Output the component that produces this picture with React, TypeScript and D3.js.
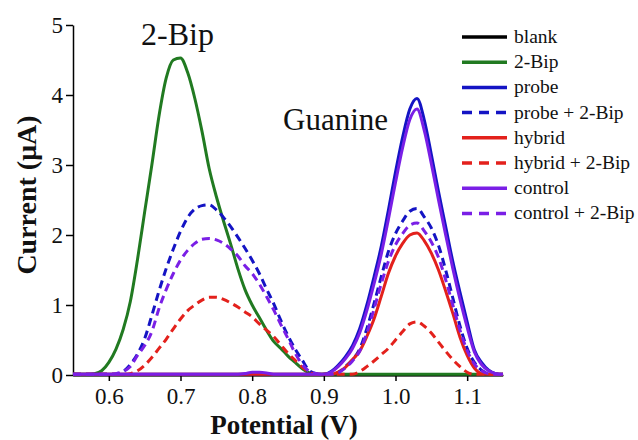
import React, { useEffect, useRef } from 'react';
import * as d3 from 'd3';

const svgWidth = 638;
const svgHeight = 440;

// potential grid (V)
const potential = [
  0.55, 0.56, 0.57, 0.58, 0.59, 0.60, 0.61, 0.62, 0.63, 0.64,
  0.65, 0.66, 0.67, 0.68, 0.69, 0.70, 0.71, 0.72, 0.73, 0.74,
  0.75, 0.76, 0.77, 0.78, 0.79, 0.80, 0.81, 0.82, 0.83, 0.84,
  0.85, 0.86, 0.87, 0.88, 0.89, 0.90, 0.91, 0.92, 0.93, 0.94,
  0.95, 0.96, 0.97, 0.98, 0.99, 1.00, 1.01, 1.02, 1.03, 1.04,
  1.05, 1.06, 1.07, 1.08, 1.09, 1.10, 1.11, 1.12, 1.13, 1.14,
  1.15,
];

// current (uA)
const blank = [
  0, 0, 0, 0, 0, 0, 0, 0, 0, 0,
  0, 0, 0, 0, 0, 0, 0, 0, 0, 0,
  0, 0, 0, 0, 0, 0, 0, 0, 0, 0,
  0, 0, 0, 0, 0, 0, 0, 0, 0, 0,
  0, 0, 0, 0, 0, 0, 0, 0, 0, 0,
  0, 0, 0, 0, 0, 0, 0, 0, 0, 0,
  0,
];

const bip = [
  0.01, 0.01, 0.01, 0.02, 0.06, 0.18, 0.37, 0.65, 1.05, 1.65,
  2.33, 3.00, 3.70, 4.24, 4.50, 4.53, 4.32, 3.95, 3.48, 2.95,
  2.55, 2.20, 1.87, 1.52, 1.22, 1.00, 0.82, 0.64, 0.48, 0.38,
  0.27, 0.18, 0.09, 0.03, 0.01, 0.01, 0.01, 0.01, 0.01, 0.01,
  0.01, 0.01, 0.01, 0.01, 0.01, 0.01, 0.01, 0.01, 0.01, 0.01,
  0.01, 0.01, 0.01, 0.01, 0.01, 0.01, 0.01, 0.01, 0.01, 0.01,
  0.01,
];

const probe = [
  0.01, 0.01, 0.01, 0.01, 0.01, 0.01, 0.01, 0.01, 0.01, 0.01,
  0.01, 0.01, 0.01, 0.01, 0.01, 0.01, 0.01, 0.01, 0.01, 0.01,
  0.01, 0.01, 0.01, 0.01, 0.01, 0.01, 0.01, 0.01, 0.01, 0.01,
  0.01, 0.01, 0.01, 0.01, 0.01, 0.01, 0.05, 0.14, 0.26, 0.42,
  0.66, 1.00, 1.40, 1.83, 2.35, 2.90, 3.40, 3.80, 3.95, 3.65,
  3.15, 2.62, 2.12, 1.62, 1.18, 0.76, 0.36, 0.18, 0.07, 0.02,
  0.01,
];

const probeBip = [
  0.01, 0.01, 0.01, 0.01, 0.01, 0.01, 0.01, 0.05, 0.15, 0.30,
  0.52, 0.85, 1.20, 1.52, 1.80, 2.05, 2.25, 2.37, 2.42, 2.43,
  2.36, 2.25, 2.12, 1.97, 1.81, 1.64, 1.45, 1.23, 1.02, 0.78,
  0.56, 0.37, 0.21, 0.06, 0.02, 0.01, 0.01, 0.04, 0.12, 0.22,
  0.37, 0.66, 1.02, 1.40, 1.76, 2.02, 2.20, 2.34, 2.38, 2.26,
  2.10, 1.85, 1.50, 1.10, 0.70, 0.38, 0.18, 0.07, 0.02, 0.01,
  0.01,
];

const hybrid = [
  0.01, 0.01, 0.01, 0.01, 0.01, 0.01, 0.01, 0.01, 0.01, 0.01,
  0.01, 0.01, 0.01, 0.01, 0.01, 0.01, 0.01, 0.01, 0.01, 0.01,
  0.01, 0.01, 0.01, 0.01, 0.01, 0.01, 0.01, 0.01, 0.01, 0.01,
  0.01, 0.01, 0.01, 0.01, 0.01, 0.01, 0.01, 0.04, 0.11, 0.22,
  0.34, 0.55, 0.80, 1.12, 1.45, 1.70, 1.88, 2.00, 2.03, 1.92,
  1.74, 1.50, 1.20, 0.88, 0.54, 0.28, 0.10, 0.02, 0.01, 0.01,
  0.01,
];

const hybridBip = [
  0.01, 0.01, 0.01, 0.01, 0.01, 0.01, 0.01, 0.01, 0.02, 0.06,
  0.14, 0.25, 0.38, 0.51, 0.66, 0.80, 0.92, 1.00, 1.07, 1.11,
  1.11, 1.08, 1.03, 0.97, 0.90, 0.83, 0.73, 0.64, 0.55, 0.43,
  0.31, 0.21, 0.11, 0.04, 0.01, 0.01, 0.01, 0.01, 0.01, 0.01,
  0.05, 0.12, 0.20, 0.29, 0.38, 0.50, 0.62, 0.73, 0.76, 0.70,
  0.60, 0.47, 0.34, 0.22, 0.12, 0.04, 0.01, 0.01, 0.01, 0.01,
  0.01,
];

const control = [
  0.01, 0.01, 0.01, 0.01, 0.01, 0.01, 0.01, 0.01, 0.01, 0.01,
  0.01, 0.01, 0.01, 0.01, 0.01, 0.01, 0.01, 0.01, 0.01, 0.01,
  0.01, 0.01, 0.01, 0.01, 0.02, 0.04, 0.04, 0.03, 0.01, 0.01,
  0.01, 0.01, 0.01, 0.01, 0.01, 0.01, 0.04, 0.12, 0.23, 0.38,
  0.60, 0.92, 1.30, 1.72, 2.22, 2.75, 3.25, 3.65, 3.80, 3.50,
  3.02, 2.50, 2.00, 1.52, 1.08, 0.68, 0.33, 0.15, 0.06, 0.02,
  0.01,
];

const controlBip = [
  0.01, 0.01, 0.01, 0.01, 0.01, 0.01, 0.02, 0.05, 0.12, 0.28,
  0.42, 0.62, 0.95, 1.22, 1.45, 1.64, 1.78, 1.88, 1.94, 1.95,
  1.93, 1.88, 1.80, 1.70, 1.56, 1.45, 1.30, 1.12, 0.93, 0.72,
  0.52, 0.31, 0.15, 0.05, 0.02, 0.01, 0.01, 0.03, 0.10, 0.20,
  0.34, 0.60, 0.94, 1.30, 1.62, 1.86, 2.02, 2.14, 2.17, 2.06,
  1.90, 1.68, 1.36, 1.00, 0.64, 0.35, 0.16, 0.06, 0.02, 0.01,
  0.01,
];

const seriesNames = ['blank', '2-Bip', 'probe', 'probe + 2-Bip', 'hybrid', 'hybrid + 2-Bip', 'control', 'control + 2-Bip'];
const seriesValues = [blank, bip, probe, probeBip, hybrid, hybridBip, control, controlBip];
const seriesColors = ['#000000', '#217a21', '#1414c4', '#1414c4', '#e3211c', '#e3211c', '#7a1fe6', '#7a1fe6'];
const seriesDashed = [false, false, false, true, false, true, false, true];

const xTicks = [0.6, 0.7, 0.8, 0.9, 1.0, 1.1];
const yTicks = [0, 1, 2, 3, 4, 5];

const serif = '"Liberation Serif", "Times New Roman", serif';

const App = () => {
  const chartRef = useRef<SVGSVGElement | null>(null);

  useEffect(() => {
    if (!chartRef.current) return;
    const svg = d3.select(chartRef.current);
    svg.selectAll('*').remove();

    const x = d3.scaleLinear().domain([0.55, 1.15]).range([73, 503]);
    const y = d3.scaleLinear().domain([0, 5]).range([375, 25]);

    // axes
    const xAxis = svg.append('g')
      .attr('transform', `translate(0, ${y(0)})`)
      .call(d3.axisBottom(x).tickValues(xTicks).tickFormat(d3.format('.1f')).tickSize(6).tickSizeOuter(0).tickPadding(7));
    const yAxis = svg.append('g')
      .attr('transform', `translate(${x(0.55)}, 0)`)
      .call(d3.axisLeft(y).tickValues(yTicks).tickFormat(d3.format('d')).tickSize(7).tickSizeOuter(0).tickPadding(3));

    [xAxis, yAxis].forEach(ax => {
      ax.attr('font-family', serif);
      ax.selectAll('path, line').attr('stroke', '#000').attr('stroke-width', 1.5);
      ax.selectAll('text').attr('font-family', serif).attr('font-size', 23).attr('fill', '#111');
    });

    // curves
    const line = d3.line<number>()
      .x((d, i) => x(potential[i]))
      .y(d => y(d))
      .curve(d3.curveMonotoneX);

    seriesValues.forEach((vals, i) => {
      svg.append('path')
        .attr('d', line(vals))
        .attr('fill', 'none')
        .attr('stroke', seriesColors[i])
        .attr('stroke-width', 3)
        .attr('stroke-linejoin', 'round')
        .attr('stroke-dasharray', seriesDashed[i] ? '8,5' : null);
    });

    // annotations
    svg.append('text').attr('x', 141).attr('y', 45)
      .attr('font-family', serif).attr('font-size', 32).attr('fill', '#111').text('2-Bip');
    svg.append('text').attr('x', 283).attr('y', 130)
      .attr('font-family', serif).attr('font-size', 31).attr('fill', '#111').text('Guanine');

    // axis titles
    svg.append('text').attr('x', 284).attr('y', 434).attr('text-anchor', 'middle')
      .attr('font-family', serif).attr('font-weight', 'bold').attr('font-size', 27).attr('fill', '#111')
      .text('Potential (V)');
    svg.append('text').attr('transform', 'translate(36, 195) rotate(-90)').attr('text-anchor', 'middle')
      .attr('font-family', serif).attr('font-weight', 'bold').attr('font-size', 28).attr('fill', '#111')
      .text('Current (μA)');

    // legend
    const legend = svg.append('g');
    seriesNames.forEach((name, i) => {
      const ly = 37 + i * 25.2;
      legend.append('line')
        .attr('x1', 462).attr('x2', 507).attr('y1', ly).attr('y2', ly)
        .attr('stroke', seriesColors[i]).attr('stroke-width', 3.5)
        .attr('stroke-dasharray', seriesDashed[i] ? '10,7' : null);
      legend.append('text')
        .attr('x', 514).attr('y', ly + 6)
        .attr('font-family', serif).attr('font-size', 19.5).attr('fill', '#111')
        .text(name);
    });
  }, []);

  return (
    <svg
      ref={chartRef}
      width={svgWidth}
      height={svgHeight}
      style={{ position: 'absolute', left: 0, top: 0, background: '#fff' }}
    />
  );
};

export default App;
